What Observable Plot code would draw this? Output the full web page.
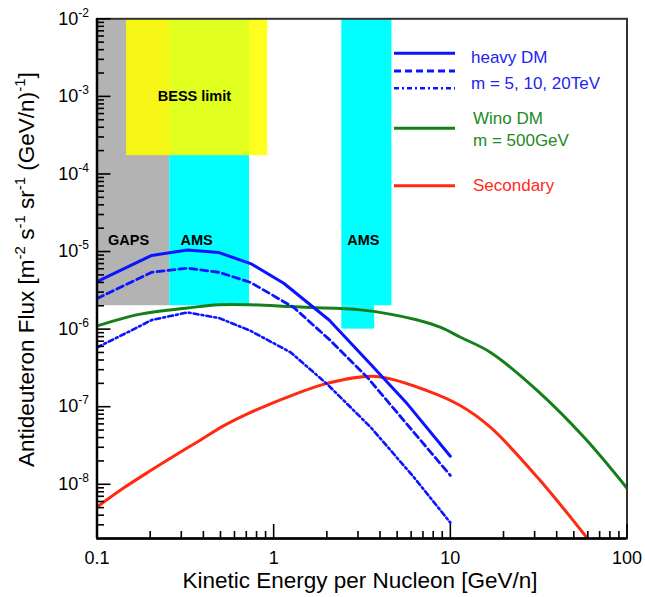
<!DOCTYPE html>
<html><head><meta charset="utf-8">
<script src="https://cdn.jsdelivr.net/npm/d3@7"></script>
<script src="https://cdn.jsdelivr.net/npm/@observablehq/plot@0.6"></script>
<style>
body{margin:0;background:#fff}
#chart svg{font-family:"Liberation Sans",Arial,Helvetica,sans-serif}
</style>
</head><body><div id="chart"></div>
<script>
// ---------- data ----------
// heavy DM, three masses (GeV/n vs flux)
const heavySolidE = [0.1, 0.204, 0.325, 0.49, 0.74, 1.14, 2.06, 3.55, 5.72, 10];
const heavySolidFlux = [4.1e-6, 8.9e-6, 1.05e-5, 9.7e-6, 7.0e-6, 3.9e-6, 1.31e-6, 3.5e-7, 1.08e-7, 2.3e-8];
const heavyDashE = [0.1, 0.204, 0.325, 0.49, 0.74, 1.30, 2.10, 3.40, 10];
const heavyDashFlux = [2.48e-6, 5.4e-6, 6.1e-6, 5.4e-6, 4.0e-6, 1.9e-6, 7.1e-7, 2.37e-7, 1.3e-8];
const heavyDotE = [0.1, 0.155, 0.204, 0.325, 0.49, 0.74, 1.25, 2.01, 3.55, 6.24, 10];
const heavyDotFlux = [5.8e-7, 9.5e-7, 1.31e-6, 1.64e-6, 1.39e-6, 9.5e-7, 5.0e-7, 1.95e-7, 5.4e-8, 1.22e-8, 3.2e-9];
// Wino DM, m = 500 GeV
const winoE = [0.1, 0.176, 0.325, 0.49, 0.74, 1.25, 1.62, 3.11, 6.52, 8.83, 11.5, 16.9, 31.2, 57.3, 100];
const winoFlux = [1.10e-6, 1.56e-6, 1.87e-6, 2.06e-6, 2.06e-6, 1.95e-6, 1.90e-6, 1.77e-6, 1.31e-6, 1.05e-6, 7.8e-7, 5.0e-7, 1.6e-7, 4.0e-8, 8.9e-9];
// Secondary
const secE = [0.1, 0.142, 0.2, 0.297, 0.386, 0.52, 0.71, 0.96, 1.25, 2.01, 3.8, 7.43, 11.5, 16.9, 31.2, 59.8];
const secFlux = [5.1e-9, 9.0e-9, 1.49e-8, 2.61e-8, 3.73e-8, 5.65e-8, 8.07e-8, 1.09e-7, 1.38e-7, 2.0e-7, 2.45e-7, 1.6e-7, 1.02e-7, 5.4e-8, 1.22e-8, 2.0e-9];

// experiment sensitivity regions [low, high]
const gapsE = [0.1, 0.258], gapsFlux = [2.0e-6, 1e-2];
const ams1E = [0.258, 0.73], ams1Flux = [2.0e-6, 1e-2];
const ams2E = [2.43, 4.67], ams2Flux = [2.0e-6, 1e-2];
const ams2LowE = [2.43, 3.73], ams2LowFlux = [1.0e-6, 2.0e-6];
const bessE = [0.147, 0.925], bessFlux = [1.72e-4, 1e-2];

// region labels
const regionLabels = ["GAPS", "AMS", "AMS", "BESS limit"];
const regionLabelE = [0.151, 0.366, 3.22, 0.356];
const regionLabelFlux = [1.38e-5, 1.38e-5, 1.38e-5, 1.0e-3];

// legend
const legendLabels = [["heavy DM", "m = 5, 10, 20TeV"], ["Wino DM", "m = 500GeV"], ["Secondary"]];

// ticks
const xMajor = [0.1, 1, 10, 100];
const xMinorMant = [2, 3, 4, 5, 6, 7, 8, 9];
const xDecades = [0.1, 1, 10];
const yMajor = [1e-8, 1e-7, 1e-6, 1e-5, 1e-4, 1e-3, 1e-2];
const yMinorMant = [2, 3, 4, 5, 6, 7, 8, 9];
const yDecades = [1e-9, 1e-8, 1e-7, 1e-6, 1e-5, 1e-4, 1e-3];

const xTitle = "Kinetic Energy per Nucleon [GeV/n]";
const yTitle = "Antideuteron Flux [m{-2} s{-1} sr{-1} (GeV/n){-1}]";

// ---------- build ----------
const rows = (E, F) => E.map((e, i) => ({e, f: F[i]}));
const rect = (E, F) => [{x1: E[0], x2: E[1], y1: F[0], y2: F[1]}];
const xMinor = xDecades.flatMap(d => xMinorMant.map(m => +(m * d).toPrecision(3)));
const yMinor = yDecades.flatMap(d => yMinorMant.map(m => +(m * d).toPrecision(3))).filter(v => v > 2.05e-9);
const labelRows = regionLabels.map((t, i) => ({t, e: regionLabelE[i], f: regionLabelFlux[i]}));

const BLUE = "#0a14ff", GREEN = "#15801a", RED = "#ff2a10";

const svg = Plot.plot({
  width: 645, height: 597,
  marginLeft: 96.5, marginRight: 18.5, marginTop: 18.3, marginBottom: 59,
  style: {background: "#fff", overflow: "visible", fontFamily: "'Liberation Sans', Arial, sans-serif"},
  x: {type: "log", domain: [0.1, 100], axis: null},
  y: {type: "log", domain: [2e-9, 1e-2], axis: null},
  marks: [
    Plot.rect(rect(gapsE, gapsFlux), {x1: "x1", x2: "x2", y1: "y1", y2: "y2", fill: "#b3b3b3"}),
    Plot.rect(rect(ams1E, ams1Flux), {x1: "x1", x2: "x2", y1: "y1", y2: "y2", fill: "#00ffff"}),
    Plot.rect(rect(ams2E, ams2Flux), {x1: "x1", x2: "x2", y1: "y1", y2: "y2", fill: "#00ffff"}),
    Plot.rect(rect(ams2LowE, ams2LowFlux), {x1: "x1", x2: "x2", y1: "y1", y2: "y2", fill: "#00ffff"}),
    Plot.rect(rect(bessE, bessFlux), {x1: "x1", x2: "x2", y1: "y1", y2: "y2", fill: "#ffff00", fillOpacity: 0.88}),
    Plot.text(labelRows, {x: "e", y: "f", text: "t", fontSize: 14.5, fontWeight: "bold", fill: "#000"}),
    Plot.line(rows(winoE, winoFlux), {x: "e", y: "f", stroke: GREEN, strokeWidth: 3, curve: "catmull-rom", clip: true}),
    Plot.line(rows(secE, secFlux), {x: "e", y: "f", stroke: RED, strokeWidth: 3, curve: "catmull-rom", clip: true}),
    Plot.line(rows(heavyDotE, heavyDotFlux), {x: "e", y: "f", stroke: BLUE, strokeWidth: 2.6, strokeDasharray: "5,3,2,3", clip: true}),
    Plot.line(rows(heavyDashE, heavyDashFlux), {x: "e", y: "f", stroke: BLUE, strokeWidth: 2.8, strokeDasharray: "7,4", clip: true}),
    Plot.line(rows(heavySolidE, heavySolidFlux), {x: "e", y: "f", stroke: BLUE, strokeWidth: 3, clip: true}),
    Plot.frame({stroke: "#333", strokeWidth: 2}),
    // inward ticks
    Plot.axisY({ticks: yMajor, tickSize: 14, dx: 14, tickFormat: () => "", label: null, strokeWidth: 1.6}),
    Plot.axisY({ticks: yMinor, tickSize: 7.5, dx: 7.5, tickFormat: () => "", label: null, strokeWidth: 1.6}),
    Plot.axisX({ticks: xMajor, tickSize: 14, dy: -14, tickFormat: () => "", label: null, strokeWidth: 1.6}),
    Plot.axisX({ticks: xMinor, tickSize: 7, dy: -7, tickFormat: () => "", label: null, strokeWidth: 1.6}),
    // tick labels
    Plot.axisY({ticks: yMajor, tickSize: 0, tickPadding: 8, fontSize: 18, label: null,
      tickFormat: d => "10{" + Math.round(Math.log10(d)) + "}"}),
    Plot.axisX({ticks: xMajor, tickSize: 0, tickPadding: 13, fontSize: 18, label: null,
      tickFormat: d => String(d)}),
    Plot.ruleX([0.1], {stroke: "#000", strokeWidth: 2.5}),
    Plot.ruleY([2e-9], {stroke: "#000", strokeWidth: 2.5}),
    // titles
    Plot.text([xTitle], {frameAnchor: "bottom", textAnchor: "middle", dy: 49, dx: -2, fontSize: 22.5, fill: "#000"}),
    Plot.text([yTitle], {frameAnchor: "left", textAnchor: "middle", rotate: -90, dx: -70.5, dy: -9, fontSize: 22.5, fill: "#000"})
  ]
});

// superscripts: "a{b}c" -> tspans
d3.select(svg).selectAll("text").each(function () {
  const t = d3.select(this);
  const s = t.text();
  if (!s.includes("{")) return;
  const fs = parseFloat(t.attr("font-size") || this.parentNode.getAttribute("font-size") || 18);
  const sup = Math.round(fs * 0.65), rise = Math.round(fs * 0.42);
  t.text(null);
  const parts = s.split(/(\{[^}]*\})/).filter(p => p !== "");
  let raised = false;
  parts.forEach(p => {
    if (p.startsWith("{")) {
      t.append("tspan").attr("dy", -rise).attr("font-size", sup).text(p.slice(1, -1));
      raised = true;
    } else {
      const ts = t.append("tspan").text(p);
      if (raised) { ts.attr("dy", rise); raised = false; }
    }
  });
});

// legend (inside the frame, top right)
const lg = d3.select(svg).append("g").attr("font-size", 17).attr("text-anchor", "start");
const lineItems = [
  {y: 53.3, c: BLUE, dash: null, w: 3},
  {y: 71, c: BLUE, dash: "7,4", w: 2.8},
  {y: 88.3, c: BLUE, dash: "5,3,2,3", w: 2.6},
  {y: 128.3, c: GREEN, dash: null, w: 3},
  {y: 185.7, c: RED, dash: null, w: 3}
];
lineItems.forEach(d => {
  lg.append("line").attr("x1", 394).attr("x2", 455).attr("y1", d.y).attr("y2", d.y)
    .attr("stroke", d.c).attr("stroke-width", d.w).attr("stroke-dasharray", d.dash);
});
const textItems = [
  {t: legendLabels[0][0], x: 471, y: 57, c: "#2323f0"},
  {t: legendLabels[0][1], x: 471, y: 83.3, c: "#2323f0"},
  {t: legendLabels[1][0], x: 473, y: 118.3, c: "#1e8a1e"},
  {t: legendLabels[1][1], x: 473, y: 140, c: "#1e8a1e"},
  {t: legendLabels[2][0], x: 473, y: 185, c: "#ff2a1a"}
];
textItems.forEach(d => {
  lg.append("text").attr("x", d.x).attr("y", d.y).attr("dy", "0.35em").attr("fill", d.c)
    .attr("text-anchor", "start").text(d.t);
});

document.getElementById("chart").appendChild(svg);
</script>
</body></html>
